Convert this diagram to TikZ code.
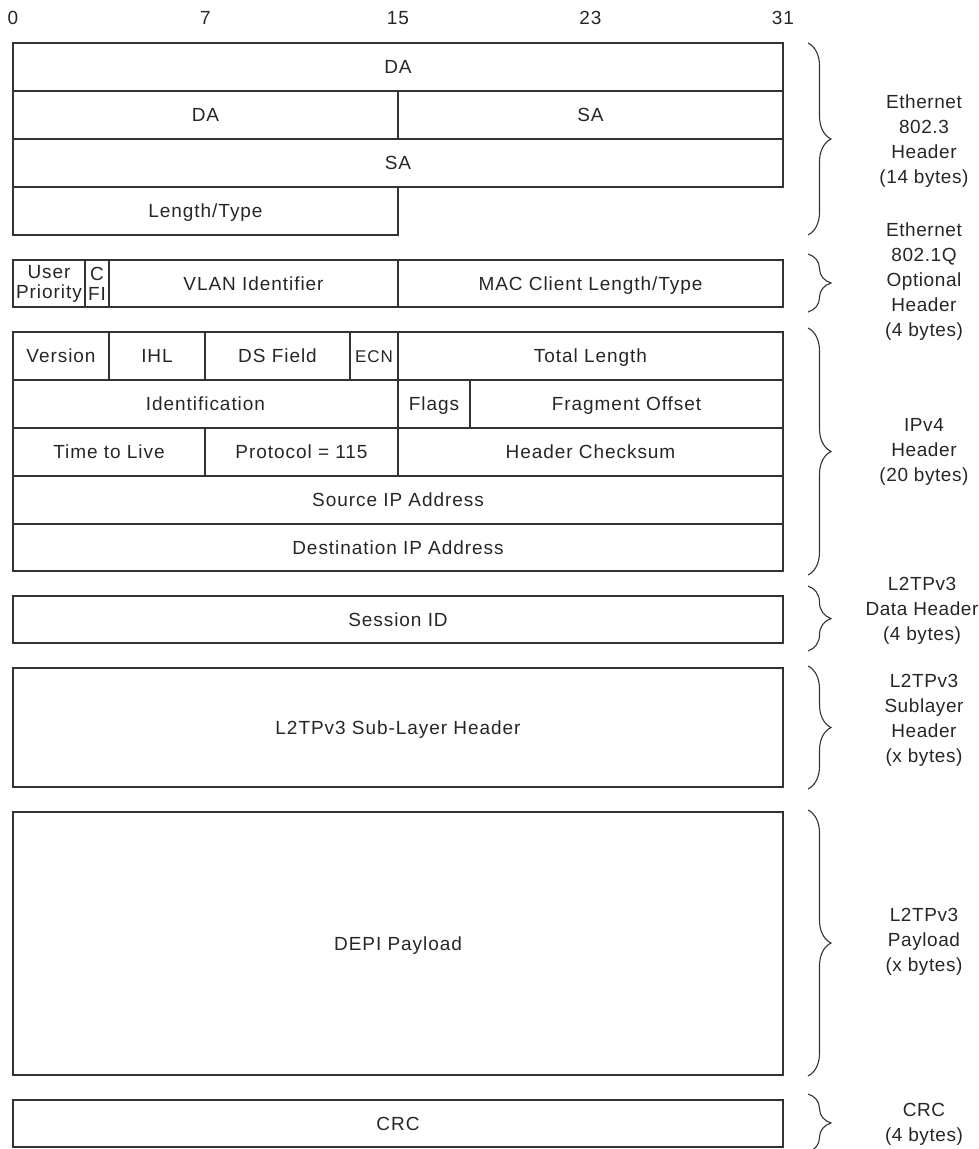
\documentclass[tikz,border=0pt]{standalone}
\usepackage{fontspec}
\setmainfont{Liberation Sans}[LetterSpace=5]
\usetikzlibrary{decorations.pathreplacing}

\begin{document}
\begin{tikzpicture}[x=1pt, y=-1pt, font=\fontsize{19}{25}\selectfont, text=black!85,
  fld/.style={draw=black!80, line width=1.2pt, inner sep=0pt, outer sep=0pt, minimum height=48pt,
              text height=13.5pt, text depth=0pt},
  full/.style={fld, minimum width=770pt},
  half/.style={fld, minimum width=385pt},
  tight/.style={draw=black!80, line width=1.2pt, inner sep=0pt, outer sep=0pt, minimum height=47pt,
                align=center, font=\fontsize{19}{20}\selectfont},
  brc/.style={draw=black!80, line width=1.1pt, decorate, decoration={brace, amplitude=23pt}},
  lab/.style={align=center, inner sep=0pt, font=\fontsize{19}{25}\selectfont\addfontfeatures{LetterSpace=3}},
  bitno/.style={inner sep=0pt}]
\useasboundingbox (0,0) rectangle (978,1149);

% bit numbers
\foreach \b/\x in {0/13, 7/205.5, 15/398, 23/590.5, 31/783}
  \node[bitno] (bit\b) at (\x,18) {\b};

% ethernet 802.3 header
\node[full] (da1) at (398,67) {DA};
\node[half] (da2) at (205.5,115) {DA};
\node[half] (sa1) at (590.5,115) {SA};
\node[full] (sa2) at (398,163) {SA};
\node[half] (lentype) at (205.5,211) {Length/Type};

% 802.1Q tag
\node[tight, minimum width=72pt] (upri) at (49,283.5) {User\\Priority};
\node[tight, minimum width=24pt] (cfi) at (97,283.5) {C\\FI};
\node[fld, minimum width=289pt, minimum height=47pt] (vlan) at (253.5,283.5) {VLAN Identifier};
\node[half, minimum height=47pt] (maclt) at (590.5,283.5) {MAC Client Length/Type};

% ipv4 header
\node[fld, minimum width=96pt] (ver) at (61,356) {Version};
\node[fld, minimum width=96pt] (ihl) at (157,356) {IHL};
\node[fld, minimum width=145pt] (dsf) at (277.5,356) {DS Field};
\node[fld, minimum width=48pt, font=\fontsize{17}{20}\selectfont, text height=12pt] (ecn) at (374,356) {ECN};
\node[half] (totlen) at (590.5,356) {Total Length};
\node[half] (ident) at (205.5,404) {Identification};
\node[fld, minimum width=72pt] (flags) at (434,404) {Flags};
\node[fld, minimum width=313pt] (fragoff) at (626.5,404) {Fragment Offset};
\node[fld, minimum width=192pt] (ttl) at (109,452) {Time to Live};
\node[fld, minimum width=193pt] (proto) at (301.5,452) {Protocol = 115};
\node[half] (hcsum) at (590.5,452) {Header Checksum};
\node[full] (srcip) at (398,500) {Source IP Address};
\node[full, minimum height=47pt] (dstip) at (398,547.5) {Destination IP Address};

% l2tpv3, payload, crc
\node[full, minimum height=47pt] (sessid) at (398,619.5) {Session ID};
\node[full, minimum height=119pt] (sublay) at (398,727.5) {L2TPv3 Sub-Layer Header};
\node[full, minimum height=263pt] (depi) at (398,943.5) {DEPI Payload};
\node[full, minimum height=47pt] (crc) at (398,1123.5) {CRC};

% braces
\draw[brc] (808,43) -- (808,235);
\draw[brc] (808,254) -- (808,312);
\draw[brc] (808,328) -- (808,575);
\draw[brc] (808,586) -- (808,651);
\draw[brc] (808,666) -- (808,789);
\draw[brc] (808,810) -- (808,1076);
\draw[brc] (808,1094) -- (808,1152);

% brace labels
\node[lab] (ethlab) at (924,141) {Ethernet\\802.3\\Header\\(14 bytes)};
\node[lab] (taglab) at (924,282) {Ethernet\\802.1Q\\Optional\\Header\\(4 bytes)};
\node[lab] (iplab) at (924,452) {IPv4\\Header\\(20 bytes)};
\node[lab] (datlab) at (922,611) {L2TPv3\\Data Header\\(4 bytes)};
\node[lab] (sublab) at (924,720) {L2TPv3\\Sublayer\\Header\\(x bytes)};
\node[lab] (paylab) at (924,942) {L2TPv3\\Payload\\(x bytes)};
\node[lab] (crclab) at (924,1124) {CRC\\(4 bytes)};
\end{tikzpicture}
\end{document}
